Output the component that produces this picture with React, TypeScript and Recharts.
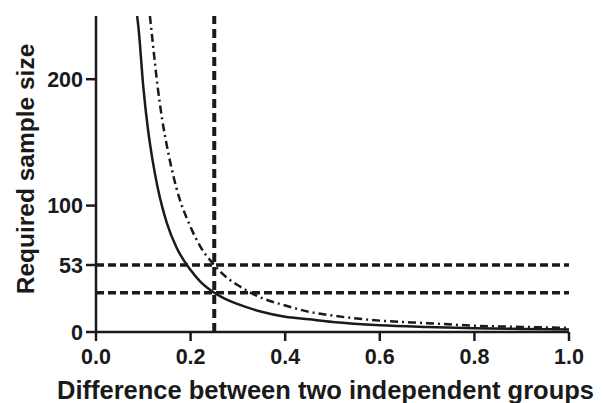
import React from 'react'
import {
  LineChart,
  Line,
  XAxis,
  YAxis,
  ReferenceLine,
  Label,
} from 'recharts'

// x = difference between groups
const solidX = [0.087, 0.09, 0.1, 0.11, 0.12, 0.13, 0.14, 0.15, 0.17, 0.2, 0.22, 0.25, 0.28, 0.3, 0.35, 0.4, 0.45, 0.5, 0.6, 0.7, 0.8, 0.9, 1.0]
const solidN = [250, 240, 194, 160, 135, 115, 99, 86, 67, 49, 40, 31, 25, 22, 16, 12, 10, 8, 5.4, 4, 3, 2.4, 2]

const dashX = [0.114, 0.12, 0.13, 0.14, 0.15, 0.17, 0.2, 0.22, 0.25, 0.28, 0.3, 0.35, 0.4, 0.45, 0.5, 0.6, 0.7, 0.8, 0.9, 1.0]
const dashN = [250, 229, 195, 168, 147, 114, 83, 68, 53, 42, 37, 27, 21, 16, 13, 9, 7, 5, 4, 3.3]

const xTicks = [0, 0.2, 0.4, 0.6, 0.8, 1.0]
const yTicks = [0, 31, 53, 100, 200]
const refX = 0.25
const refY = [31, 53]

const solidData = solidX.map((x, i) => ({ x, n: solidN[i] }))
const dashData = dashX.map((x, i) => ({ x, n: dashN[i] }))

const INK = '#1a1a1a'
const FONT = '"Liberation Sans", Arial, Helvetica, sans-serif'

export default function App() {
  const axisStyle = { stroke: INK, strokeWidth: 2.5 }
  const tickStyle = { fill: INK, fontSize: 21.5, fontWeight: 700, fontFamily: FONT }

  return (
    <div style={{ position: 'absolute', left: 0, top: 0, width: 602, height: 403, background: '#fff' }}>
      <LineChart
        width={602}
        height={403}
        margin={{ top: 16, right: 33, bottom: 0, left: 0 }}
      >
        <XAxis
          type="number"
          dataKey="x"
          domain={[0, 1]}
          ticks={xTicks}
          tickFormatter={(v: number) => v.toFixed(1)}
          height={71}
          axisLine={axisStyle}
          tickLine={axisStyle}
          tickSize={9}
          tickMargin={8}
          tick={tickStyle}
          allowDataOverflow
        >
          <Label
            position="insideBottom"
            offset={4}
            dx={-7}
            value="Difference between two independent groups"
            style={{ fill: INK, fontSize: 25.5, fontWeight: 700, fontFamily: FONT }}
          />
        </XAxis>
        <YAxis
          type="number"
          domain={[0, 250]}
          ticks={yTicks}
          width={96}
          axisLine={axisStyle}
          tickLine={axisStyle}
          tickSize={10}
          tickMargin={3}
          tick={tickStyle}
          allowDataOverflow
        >
          <Label
            content={({ viewBox }: any) => {
              const cx = 25
              const cy = viewBox.y + viewBox.height / 2 - 5
              return (
                <text
                  x={cx}
                  y={cy}
                  transform={`rotate(-90, ${cx}, ${cy})`}
                  textAnchor="middle"
                  dominantBaseline="central"
                  style={{ fill: INK, fontSize: 24.5, fontWeight: 700, fontFamily: FONT }}
                >
                  Required sample size
                </text>
              )
            }}
          />
        </YAxis>
        {refY.map((y) => (
          <ReferenceLine
            key={y}
            y={y}
            stroke={INK}
            strokeWidth={3.5}
            strokeDasharray="8 4"
          />
        ))}
        <ReferenceLine x={refX} stroke={INK} strokeWidth={4} strokeDasharray="9 5" />
        <Line
          data={solidData}
          dataKey="n"
          type="monotone"
          stroke={INK}
          strokeWidth={2.5}
          dot={false}
          isAnimationActive={false}
        />
        <Line
          data={dashData}
          dataKey="n"
          type="monotone"
          stroke={INK}
          strokeWidth={2.5}
          strokeDasharray="8 4 2 4"
          dot={false}
          isAnimationActive={false}
        />
      </LineChart>
    </div>
  )
}
